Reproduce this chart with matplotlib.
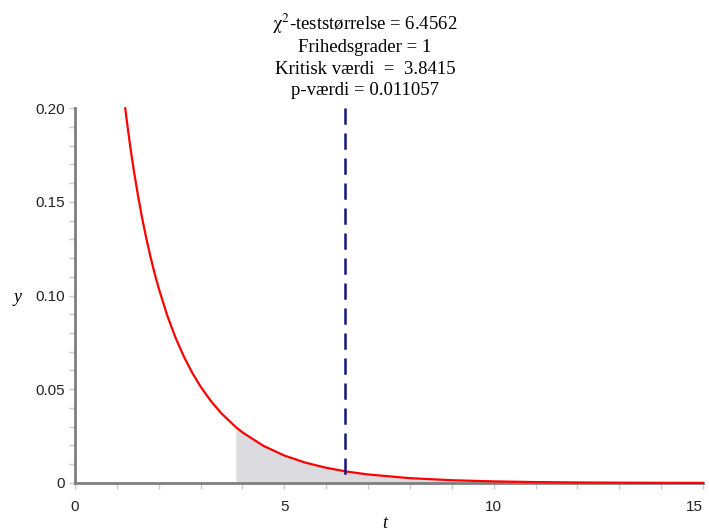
import matplotlib
matplotlib.use("Agg")
import matplotlib.pyplot as plt

# values
t_vals = [1.2, 1.25, 1.3, 1.35, 1.4, 1.5, 1.6, 1.7, 1.8, 1.9, 2.0, 2.2, 2.4, 2.6,
          2.8, 3.0, 3.25, 3.5, 3.8415, 4.0, 4.5, 5.0, 5.5, 6.0, 6.5, 7.0, 8.0, 9.0,
          10.0, 11.0, 12.0, 13.0, 14.0, 15.0]
y_vals = [0.19987, 0.19100, 0.18266, 0.17480, 0.16743, 0.15386, 0.14171, 0.13078,
          0.12090, 0.11193, 0.10378, 0.08953, 0.07756, 0.06743, 0.05879, 0.05139,
          0.04357, 0.03706, 0.02982, 0.02700, 0.01982, 0.01464, 0.01087, 0.00811,
          0.00607, 0.00455, 0.00258, 0.00148, 0.00085, 0.00049, 0.000285, 0.000166,
          0.0000972, 0.0000570]

test_stat = 6.4562
df_free = 1
crit = 3.8415
p_val = 0.011057

title_lines = [r"$\mathrm{\chi}^{2}$-teststørrelse = 6.4562",
               "Frihedsgrader = 1",
               "Kritisk værdi  =  3.8415",
               "p-værdi = 0.011057"]

x_ticks = [0, 5, 10, 15]
y_ticks = [0, 0.05, 0.10, 0.15, 0.20]
y_ticklabels = ["0", "0.05", "0.10", "0.15", "0.20"]

plt.rcParams['mathtext.fontset'] = 'stix'
serif = 'Liberation Serif'
sans = 'Liberation Sans'

fig = plt.figure(figsize=(7.09, 5.31), dpi=100)
ax = fig.add_axes([0.1058, 0.0904, 0.8857, 0.7062])

i0 = t_vals.index(crit)
ax.fill_between(t_vals[i0:], 0, y_vals[i0:], color='#dcdbe0', lw=0, zorder=1)
ax.plot(t_vals, y_vals, color='red', lw=1.6, zorder=3, clip_on=False)
# dashed line drawn top-down so a dash starts at the top
ax.plot([test_stat, test_stat], [0.2, 0], color='#14147a', lw=1.8,
        ls=(0, (6.5, 3.5)), zorder=4)

ax.set_xlim(0, 15)
ax.set_ylim(0, 0.2)
for s in ['top', 'right']:
    ax.spines[s].set_visible(False)
for s in ['left', 'bottom']:
    ax.spines[s].set_color('#7f7f7f')
    ax.spines[s].set_linewidth(2)
    ax.spines[s].set_zorder(2)

ax.set_xticks(x_ticks)
ax.set_xticks(range(0, 16), minor=True)
ax.set_yticks(y_ticks)
ax.set_yticklabels(y_ticklabels)
ax.set_yticks([i / 100 for i in range(21)], minor=True)
ax.tick_params(which='both', color='#c8c8c8', width=1, length=4, direction='out',
               labelsize=11, labelcolor='#222222')
ax.tick_params(axis='x', pad=8)
for lab in ax.get_xticklabels() + ax.get_yticklabels():
    lab.set_family(sans)
ax.get_xticklabels()[-1].set_ha('right')
ax.get_xticklabels()[-1].set_x(15.05)

fig.text(0.025, 0.44, 'y', fontsize=13, family=serif, style='italic', ha='center', va='center')
fig.text(0.543, 0.015, 't', fontsize=13, family=serif, style='italic', ha='center', va='center')

ys = [0.955, 0.911, 0.870, 0.829]
for line, yy in zip(title_lines, ys):
    fig.text(0.515, yy, line, fontsize=13.5, family=serif, ha='center', va='center')

fig.savefig('out.png', dpi=100)
